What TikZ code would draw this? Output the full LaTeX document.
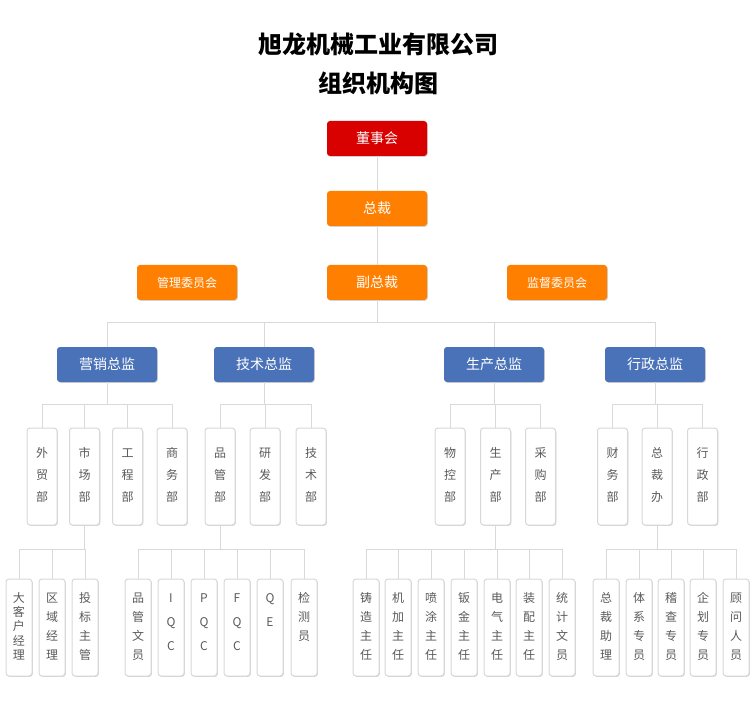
\documentclass[tikz,border=0pt]{standalone}
\usepackage{fontspec}
\setmainfont{Noto Sans CJK SC}
\usetikzlibrary{shadows}
\definecolor{cred}{RGB}{217,0,0}
\definecolor{corange}{RGB}{255,128,0}
\definecolor{cblue}{RGB}{74,114,185}
\definecolor{cline}{RGB}{217,217,217}
\definecolor{cborder}{RGB}{216,216,216}
\definecolor{ctext}{RGB}{90,90,90}
\newcommand\dtext[1]{\parbox[c][72.75pt][t]{20pt}{\centering\fontsize{9pt}{16.5pt}\selectfont\rule{0pt}{22.2pt}#1\par}}
\newcommand\stext[2][14.25pt]{\parbox[c][72.75pt][t]{18pt}{\centering\fontsize{9pt}{#1}\selectfont\rule{0pt}{17.7pt}#2\par}}
\begin{document}
\begin{tikzpicture}[x=0.75pt,y=-0.75pt,
  shad/.style={drop shadow={shadow xshift=0.6pt,shadow yshift=-0.6pt,opacity=0.25,fill=black!70}},
  topbox/.style={rectangle,rounded corners=2.25pt,minimum width=75pt,minimum height=26.25pt,inner sep=0pt,text=white,font=\fontsize{10.5pt}{12pt}\selectfont,shad},
  redbox/.style={topbox,fill=cred},
  orbox/.style={topbox,fill=corange},
  combox/.style={orbox,font=\fontsize{9pt}{11pt}\selectfont},
  bluebox/.style={topbox,fill=cblue},
  deptbox/.style={rectangle,rounded corners=2.25pt,draw=cborder,line width=0.75pt,fill=white,minimum width=22.5pt,minimum height=72.75pt,inner sep=0pt,text=ctext,shad},
  subbox/.style={deptbox,minimum width=19.5pt},
  conn/.style={draw=cline,line width=0.75pt},
  title/.style={font=\fontsize{18pt}{22pt}\selectfont\bfseries,text=black}]
\fill[white] (0,0) rectangle (755,712);
\useasboundingbox (0,0) rectangle (755,712);
% title
\node[title] (t1) at (378,44) {旭龙机械工业有限公司};
\node[title] (t2) at (378,83) {组织机构图};
% top
\node[redbox] (dsh) at (377,138.5) {董事会};
\node[orbox] (zc) at (377,208.5) {总裁};
\node[orbox] (fzc) at (377,282.5) {副总裁};
\node[combox] (glw) at (187,282.5) {管理委员会};
\node[combox] (jdw) at (557,282.5) {监督委员会};
% directors
\node[bluebox] (yx) at (107,364.5) {营销总监};
\node[bluebox] (js) at (264,364.5) {技术总监};
\node[bluebox] (scz) at (494,364.5) {生产总监};
\node[bluebox] (xz) at (655,364.5) {行政总监};
% departments
\node[deptbox] (wm) at (42,476.5) {\dtext{外\\贸\\部}};
\node[deptbox] (scb) at (84.5,476.5) {\dtext{市\\场\\部}};
\node[deptbox] (gc) at (127.5,476.5) {\dtext{工\\程\\部}};
\node[deptbox] (sw) at (172,476.5) {\dtext{商\\务\\部}};
\node[deptbox] (pg) at (220,476.5) {\dtext{品\\管\\部}};
\node[deptbox] (yf) at (265,476.5) {\dtext{研\\发\\部}};
\node[deptbox] (jsb) at (311,476.5) {\dtext{技\\术\\部}};
\node[deptbox] (wk) at (450,476.5) {\dtext{物\\控\\部}};
\node[deptbox] (scp) at (495.5,476.5) {\dtext{生\\产\\部}};
\node[deptbox] (cg) at (540.5,476.5) {\dtext{采\\购\\部}};
\node[deptbox] (cw) at (612.5,476.5) {\dtext{财\\务\\部}};
\node[deptbox] (zcb) at (657,476.5) {\dtext{总\\裁\\办}};
\node[deptbox] (xzb) at (702.5,476.5) {\dtext{行\\政\\部}};
% staff
\node[subbox] (dkh) at (19,627.5) {\stext[10.6pt]{大\\客\\户\\经\\理}};
\node[subbox] (qy) at (52,627.5) {\stext{区\\域\\经\\理}};
\node[subbox] (tb) at (85,627.5) {\stext{投\\标\\主\\管}};
\node[subbox] (pgwy) at (138,627.5) {\stext{品\\管\\文\\员}};
\node[subbox] (iqc) at (171,627.5) {\stext[18pt]{I\\Q\\C}};
\node[subbox] (pqc) at (204,627.5) {\stext[18pt]{P\\Q\\C}};
\node[subbox] (fqc) at (237,627.5) {\stext[18pt]{F\\Q\\C}};
\node[subbox] (qe) at (270,627.5) {\stext[18pt]{Q\\E}};
\node[subbox] (jcy) at (304,627.5) {\stext{检\\测\\员}};
\node[subbox] (zz) at (366,627.5) {\stext{铸\\造\\主\\任}};
\node[subbox] (jj) at (398,627.5) {\stext{机\\加\\主\\任}};
\node[subbox] (pt) at (431,627.5) {\stext{喷\\涂\\主\\任}};
\node[subbox] (bj) at (464,627.5) {\stext{钣\\金\\主\\任}};
\node[subbox] (dq) at (497,627.5) {\stext{电\\气\\主\\任}};
\node[subbox] (zp) at (529,627.5) {\stext{装\\配\\主\\任}};
\node[subbox] (tj) at (562,627.5) {\stext{统\\计\\文\\员}};
\node[subbox] (zczl) at (606,627.5) {\stext{总\\裁\\助\\理}};
\node[subbox] (tx) at (639,627.5) {\stext{体\\系\\专\\员}};
\node[subbox] (jc) at (671,627.5) {\stext{稽\\查\\专\\员}};
\node[subbox] (qh) at (703,627.5) {\stext{企\\划\\专\\员}};
\node[subbox] (gw) at (736,627.5) {\stext{顾\\问\\人\\员}};
% buses
\coordinate (busA) at (0,322);
\coordinate (busB) at (0,404);
\coordinate (busC) at (0,549);
% connectors
\draw[conn] (dsh.south) -- (zc.north);
\draw[conn] (zc.south) -- (fzc.north);
\foreach \c in {yx,js,scz,xz} \draw[conn] (fzc.south) -- (fzc.south |- busA) -| (\c.north);
\foreach \c in {wm,scb,gc,sw} \draw[conn] (yx.south) -- (yx.south |- busB) -| (\c.north);
\foreach \c in {pg,yf,jsb} \draw[conn] (js.south) -- (js.south |- busB) -| (\c.north);
\foreach \c in {wk,scp,cg} \draw[conn] (scz.south) -- (scz.south |- busB) -| (\c.north);
\foreach \c in {cw,zcb,xzb} \draw[conn] (xz.south) -- (xz.south |- busB) -| (\c.north);
\foreach \c in {dkh,qy,tb} \draw[conn] (scb.south) -- (scb.south |- busC) -| (\c.north);
\foreach \c in {pgwy,iqc,pqc,fqc,qe,jcy} \draw[conn] (pg.south) -- (pg.south |- busC) -| (\c.north);
\foreach \c in {zz,jj,pt,bj,dq,zp,tj} \draw[conn] (scp.south) -- (scp.south |- busC) -| (\c.north);
\foreach \c in {zczl,tx,jc,qh,gw} \draw[conn] (zcb.south) -- (zcb.south |- busC) -| (\c.north);
\end{tikzpicture}
\end{document}
